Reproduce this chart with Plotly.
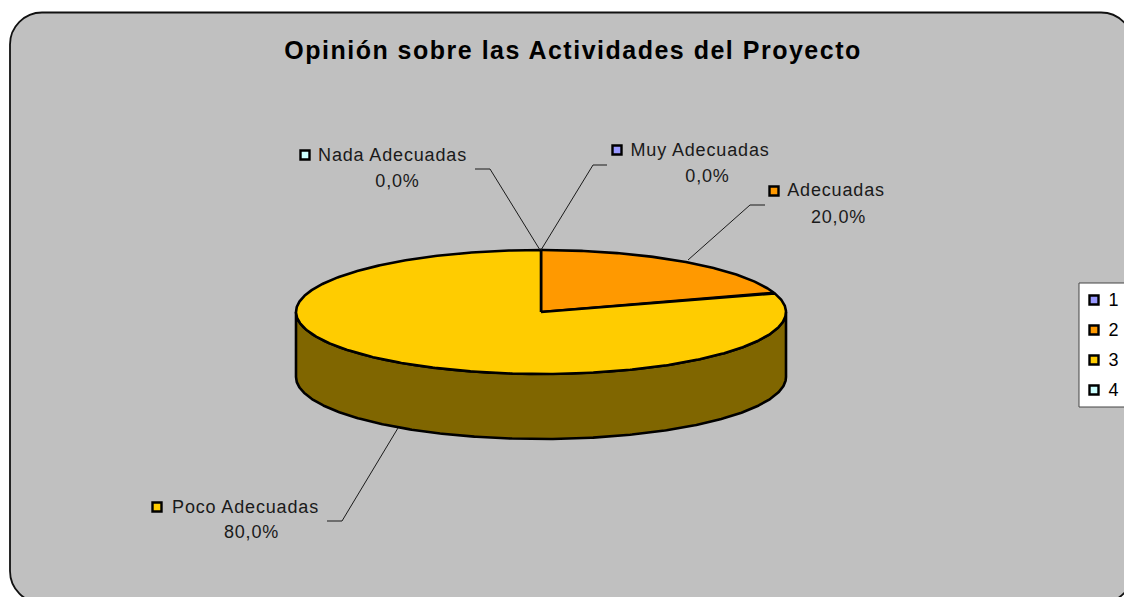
import numpy as np
import plotly.graph_objects as go

categories = ["Muy Adecuadas", "Adecuadas", "Poco Adecuadas", "Nada Adecuadas"]
values = [0, 20, 80, 0]
legend_labels = ["1", "2", "3", "4"]
colors = ["#9999FF", "#FF9900", "#FFCC00", "#CCFFFF"]
title = "Opinión sobre las Actividades del Proyecto"

# Pseudo-3D pie geometry (pixel coordinates on hidden axes)
CX, CY, RX, RY, DEPTH = 541, 312, 245, 62, 65
SIDE = "#806600"
BG = "#C0C0C0"
FAMILY = "Liberation Sans, Arial"
LABEL_FONT = dict(family=FAMILY, size=18, color="#1a1a1a")
EDGE = dict(color="black", width=2.6)

fig = go.Figure()


def arc(a0, a1):
    t = np.radians(np.linspace(a0, a1, max(2, int(abs(a1 - a0) * 2))))
    return CX + RX * np.sin(t), CY - RY * np.cos(t)


# side wall (front half of the pie)
ax, ay = arc(90, 270)
fig.add_trace(go.Scatter(
    x=np.r_[ax, ax[::-1], ax[0]], y=np.r_[ay, ay[::-1] + DEPTH, ay[0]],
    mode="lines", fill="toself", fillcolor=SIDE,
    line=EDGE, hoverinfo="skip", showlegend=False))

# top faces, from the values
total = sum(values)
start = 0.0
for name, v, c in zip(categories, values, colors):
    sweep = 360.0 * v / total
    if sweep > 0:
        sx, sy = arc(start, start + sweep)
        fig.add_trace(go.Scatter(
            x=np.r_[CX, sx, CX], y=np.r_[CY, sy, CY],
            mode="lines", fill="toself", fillcolor=c, name=name,
            line=EDGE, showlegend=False))
    start += sweep

# data labels: key position, name centre, percent centre, leader path
label_layout = {
    "Nada Adecuadas": dict(key=(305, 155), text=(392.5, 155), pct=(397, 181),
                           lead=[(475, 169), (490, 169), (540, 250)]),
    "Muy Adecuadas": dict(key=(617, 150), text=(700, 150), pct=(707, 176),
                          lead=[(607, 165), (593, 165), (541, 250)]),
    "Adecuadas": dict(key=(774, 191), text=(836, 190), pct=(838, 217),
                      lead=[(765, 205), (750, 205), (688, 260)]),
    "Poco Adecuadas": dict(key=(157, 507), text=(245, 507), pct=(251, 532),
                           lead=[(327, 521), (342, 521), (398, 428)]),
}
for name, v, c in zip(categories, values, colors):
    p = label_layout[name]
    lx, ly = zip(*p["lead"])
    fig.add_trace(go.Scatter(x=lx, y=ly, mode="lines",
                             line=dict(color="#1a1a1a", width=1),
                             hoverinfo="skip", showlegend=False))
    fig.add_trace(go.Scatter(
        x=[p["key"][0]], y=[p["key"][1]], mode="markers",
        marker=dict(symbol="square", size=9, color=c,
                    line=dict(color="black", width=2.4)),
        hoverinfo="skip", showlegend=False))
    fig.add_annotation(x=p["text"][0], y=p["text"][1], text=name,
                       xanchor="center", yanchor="middle", showarrow=False,
                       font=LABEL_FONT)
    fig.add_annotation(x=p["pct"][0], y=p["pct"][1],
                       text=f"{v / total * 100:.1f}%".replace(".", ","),
                       xanchor="center", yanchor="middle", showarrow=False,
                       font=LABEL_FONT)

# legend box
LEG_X, LEG_Y0, LEG_STEP = 1094, 300, 30
for i, (lab, c) in enumerate(zip(legend_labels, colors)):
    fig.add_trace(go.Scatter(
        x=[LEG_X], y=[LEG_Y0 + i * LEG_STEP], mode="markers",
        marker=dict(symbol="square", size=9, color=c,
                    line=dict(color="black", width=2.4)),
        hoverinfo="skip", showlegend=False))
    fig.add_annotation(x=LEG_X + 13, y=LEG_Y0 + i * LEG_STEP, text=lab,
                       xanchor="left", yanchor="middle", showarrow=False,
                       font=dict(family=FAMILY, size=18, color="black"))

# rounded chart area (runs past the right and bottom edges of the picture)
L, T, Rt, B, R = 10, 12.5, 1133, 603, 32
K = R * 0.45
round_rect = (
    f"M {L} {B-R} L {L} {T+R} C {L} {T+K} {L+K} {T} {L+R} {T} "
    f"L {Rt-R} {T} C {Rt-K} {T} {Rt} {T+K} {Rt} {T+R} "
    f"L {Rt} {B-R} C {Rt} {B-K} {Rt-K} {B} {Rt-R} {B} "
    f"L {L+R} {B} C {L+K} {B} {L} {B-K} {L} {B-R} Z"
)

fig.update_layout(
    width=1124, height=597, autosize=False,
    margin=dict(l=0, r=0, t=0, b=0),
    paper_bgcolor="white", plot_bgcolor="rgba(0,0,0,0)",
    title=dict(text=f"<b>{title}</b>", x=573 / 1124, xanchor="center",
               xref="paper", y=1 - 50 / 597, yref="container", yanchor="middle",
               font=dict(family=FAMILY, size=25, color="black")),
    xaxis=dict(range=[0, 1124], visible=False, fixedrange=True),
    yaxis=dict(range=[597, 0], visible=False, fixedrange=True),
    showlegend=False,
    shapes=[
        dict(type="path", layer="below", xref="x", yref="y", path=round_rect,
             fillcolor=BG, line=dict(color="#111", width=1.8)),
        dict(type="rect", layer="below", xref="x", yref="y",
             x0=1079, x1=1130, y0=283, y1=407,
             fillcolor="white", line=dict(color="#444", width=1)),
    ],
)

post = """
document.body.style.margin = '0';
document.body.style.overflow = 'hidden';
var s = document.createElement('style');
s.textContent = '.annotation-text{letter-spacing:.85px} .gtitle{letter-spacing:1.5px}';
document.head.appendChild(s);
"""
fig.write_html("out.html", config={"displayModeBar": False}, post_script=post)
